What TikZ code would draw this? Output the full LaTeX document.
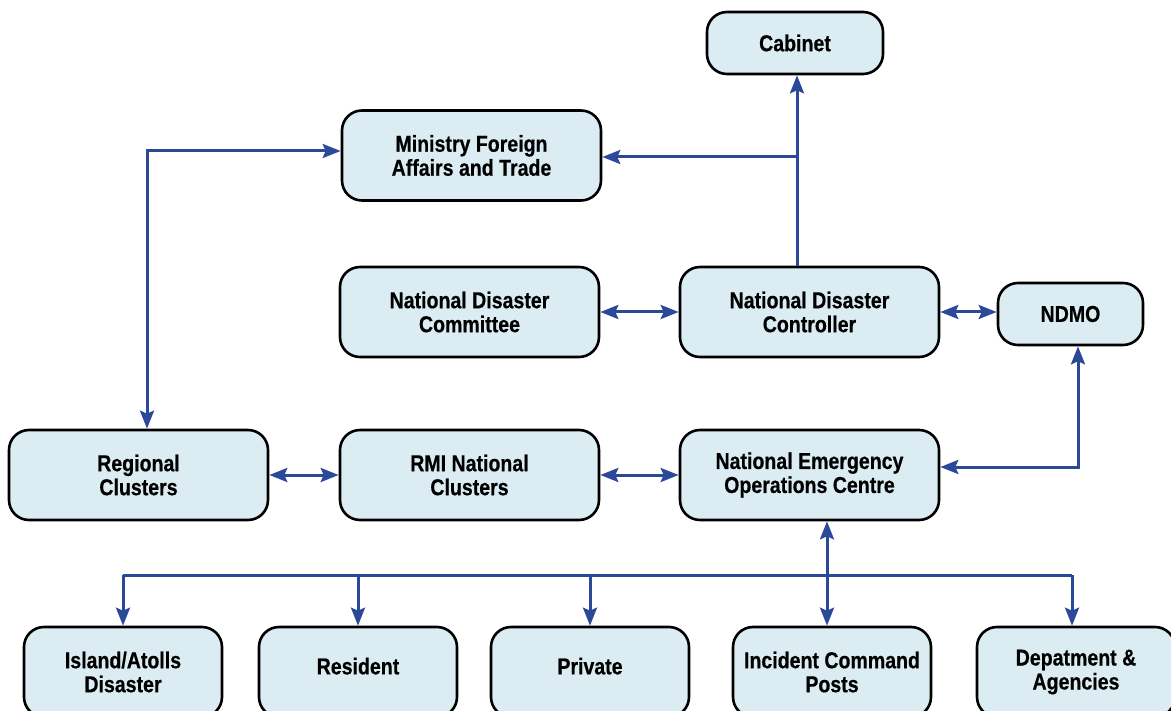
\documentclass[tikz,border=0pt]{standalone}
\usepackage{fontspec}
\newfontfamily\lab{Liberation Sans}[FakeStretch=0.85, FakeBold=0.5]
\usetikzlibrary{arrows.meta}
\definecolor{boxfill}{HTML}{DBEDF3}
\definecolor{linkblue}{HTML}{2C4898}
\tikzset{
  orgbox/.style={draw=black, line width=2.6pt, fill=boxfill, rounded corners=20pt,
    align=center, inner sep=0pt, font=\lab\bfseries\fontsize{23}{24}\selectfont},
  wide/.style={orgbox, minimum width=259pt, minimum height=90pt},
  small/.style={orgbox, minimum width=198pt, minimum height=90pt},
  raised/.style={text depth=12pt},
  link/.style={draw=linkblue, line width=3pt},
  one/.style={link, -{Stealth[length=18pt,width=14pt,inset=3pt]}},
  two/.style={link, {Stealth[length=18pt,width=14pt,inset=3pt]}-{Stealth[length=18pt,width=14pt,inset=3pt]}}
}
\begin{document}
\begin{tikzpicture}[x=1pt,y=-1pt]
\useasboundingbox (0,0) rectangle (1171,711);
\clip (0,0) rectangle (1171,711);
\fill[white] (0,0) rectangle (1171,711);

\node[orgbox, minimum width=176pt, minimum height=62pt] (cab) at (795,43) {Cabinet};
\node[wide] (mfat) at (471.5,155.5) {Ministry Foreign\\Affairs and Trade};
\node[wide] (ndc) at (469.5,312) {National Disaster\\Committee};
\node[wide] (ndctrl) at (809.5,312) {National Disaster\\Controller};
\node[orgbox, minimum width=145pt, minimum height=62pt] (ndmo) at (1070.5,314) {NDMO};
\node[wide] (reg) at (138.5,475) {Regional\\Clusters};
\node[wide] (rmi) at (469.5,475) {RMI National\\Clusters};
\node[wide] (neoc) at (809.5,475) {National Emergency\\Operations Centre};
\node[small] (island) at (123,672) {Island/Atolls\\Disaster};
\node[small, raised] (res) at (358,672) {Resident};
\node[small, raised] (priv) at (590,672) {Private};
\node[small] (icp) at (832,672) {Incident Command\\Posts};
\node[small] (dept) at (1076,672) {Depatment \&\\Agencies};

\coordinate (kC) at (797,157);
\coordinate (kL) at (147,151);
\coordinate (kN) at (1078,467);
\coordinate (kB) at (827,575);
\coordinate (kD) at (1072,575);

% Controller to Cabinet and Ministry
\draw[one] (ndctrl.north -| kC) -- (cab.south -| kC);
\draw[one] (kC) -- (mfat.east |- kC);
% Ministry and Regional Clusters
\draw[two] (mfat.west |- kL) -| (reg.north -| kL);
% horizontal links
\draw[two] (ndc.east) -- (ndctrl.west);
\draw[two] (ndctrl.east) -- (ndctrl.east -| ndmo.west);
\draw[two] (reg.east) -- (rmi.west);
\draw[two] (rmi.east) -- (neoc.west);
% NEOC and NDMO
\draw[two] (neoc.east |- kN) -| (ndmo.south -| kN);
% NEOC to the bottom row
\draw[two] (neoc.south -| kB) -- (icp.north -| kB);
\draw[link] (island.north |- kB) -- (kD);
\foreach \n in {island,res,priv}
  \draw[one] (\n.north |- kB) -- (\n.north);
\draw[one] (kD) -- (dept.north -| kD);
\end{tikzpicture}
\end{document}
